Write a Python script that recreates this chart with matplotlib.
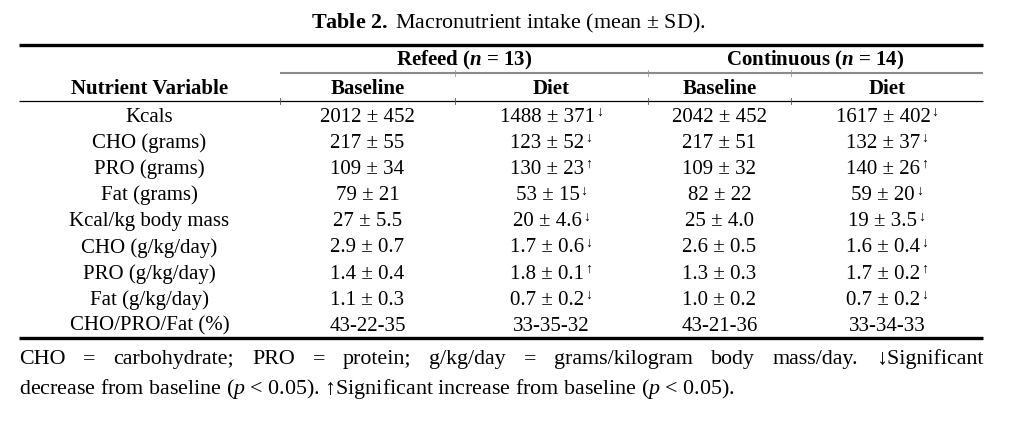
import matplotlib
matplotlib.use("Agg")
import matplotlib.pyplot as plt

plt.rcParams['font.family'] = ['Liberation Serif', 'DejaVu Serif', 'DejaVu Sans']
plt.rcParams['mathtext.fontset'] = 'custom'
plt.rcParams['mathtext.rm'] = 'Liberation Serif'
plt.rcParams['mathtext.it'] = 'Liberation Serif:italic'
plt.rcParams['mathtext.bf'] = 'Liberation Serif:bold'
plt.rcParams['mathtext.bfit'] = 'Liberation Serif:italic:bold'

# --- table content ---
title_bold = "Table 2."
title_rest = "Macronutrient intake (mean ± SD)."

groups = ["Refeed", "Continuous"]
group_n = [13, 14]
col_headers = ["Nutrient Variable", "Baseline", "Diet", "Baseline", "Diet"]

variables = ["Kcals", "CHO (grams)", "PRO (grams)", "Fat (grams)",
             "Kcal/kg body mass", "CHO (g/kg/day)", "PRO (g/kg/day)",
             "Fat (g/kg/day)", "CHO/PRO/Fat (%)"]

refeed_baseline = ["2012 ± 452", "217 ± 55", "109 ± 34", "79 ± 21", "27 ± 5.5",
                   "2.9 ± 0.7", "1.4 ± 0.4", "1.1 ± 0.3", "43-22-35"]
refeed_diet = ["1488 ± 371", "123 ± 52", "130 ± 23", "53 ± 15", "20 ± 4.6",
               "1.7 ± 0.6", "1.8 ± 0.1", "0.7 ± 0.2", "33-35-32"]
refeed_change = ["down", "down", "up", "down", "down", "down", "up", "down", ""]

cont_baseline = ["2042 ± 452", "217 ± 51", "109 ± 32", "82 ± 22", "25 ± 4.0",
                 "2.6 ± 0.5", "1.3 ± 0.3", "1.0 ± 0.2", "43-21-36"]
cont_diet = ["1617 ± 402", "132 ± 37", "140 ± 26", "59 ± 20", "19 ± 3.5",
             "1.6 ± 0.4", "1.7 ± 0.2", "0.7 ± 0.2", "33-34-33"]
cont_change = ["down", "down", "up", "down", "down", "down", "up", "down", ""]

foot_line1 = ("CHO = carbohydrate; PRO = protein; g/kg/day = grams/kilogram "
              "body mass/day. ↓Significant")
foot_line2 = (r"decrease from baseline ($p$ < 0.05). ↑Significant increase "
              r"from baseline ($p$ < 0.05).")

# --- layout (pixel coords) ---
fs = 15
fs_foot = 15.8
edges = [19, 280, 455, 648, 791, 983]
centers = [(edges[i] + edges[i + 1]) / 2 for i in range(5)]
row_y0, row_step = 116, 26.1
off = 6  # center -> baseline

fig = plt.figure(figsize=(10.24, 4.21), dpi=100)
ax = fig.add_axes([0, 0, 1, 1])
ax.set_xlim(0, 1024)
ax.set_ylim(421, 0)
ax.axis('off')
renderer = fig.canvas.get_renderer()


def txt(x, y, s, **kw):
    kw.setdefault('fontsize', fs)
    kw.setdefault('ha', 'center')
    return ax.text(x, y + off, s, va='baseline', **kw)


def width(t):
    return t.get_window_extent(renderer).width


# title
txt(508, 22, r"$\mathbf{Table\ 2.}$ " + title_rest, fontsize=15.8)

# rules
ax.plot([edges[0], edges[-1]], [45, 45], color='black', lw=2.4, solid_capstyle='butt')
ax.plot([edges[1], edges[-1]], [73, 73], color='#8a8a8a', lw=1.5, solid_capstyle='butt')
ax.plot([edges[0], edges[-1]], [101, 101], color='black', lw=0.9, solid_capstyle='butt')
ax.plot([edges[0], edges[-1]], [338, 338], color='black', lw=2.4, solid_capstyle='butt')
for xe in edges[2:5]:
    ax.plot([xe, xe], [70, 76], color='#9a9a9a', lw=0.6)
for xe in edges[1:5]:
    ax.plot([xe, xe], [98, 104], color='#555555', lw=0.6)

# group headers
txt((edges[1] + edges[3]) / 2, 59, groups[0] + r" ($\mathbfit{n}$ = %d)" % group_n[0],
    fontweight='bold')
txt((edges[3] + edges[5]) / 2, 59, groups[1] + r" ($\mathbfit{n}$ = %d)" % group_n[1],
    fontweight='bold')

# column headers
for cx, h in zip(centers, col_headers):
    txt(cx, 88, h, fontweight='bold')

# body
plain_cols = [(0, variables), (1, refeed_baseline), (3, cont_baseline)]
for j, col in plain_cols:
    for i, s in enumerate(col):
        txt(centers[j], row_y0 + i * row_step, s)

arrow = {"down": "↓", "up": "↑"}
for j, vals, changes in [(2, refeed_diet, refeed_change), (4, cont_diet, cont_change)]:
    for i, (s, c) in enumerate(zip(vals, changes)):
        y = row_y0 + i * row_step
        t = txt(centers[j], y, s, ha='left')
        if not c:
            t.set_ha('center')
            continue
        a = txt(0, y - 6, arrow[c], ha='left', fontsize=10)
        wv, wa = width(t), width(a)
        x0 = centers[j] - (wv + wa + 1) / 2
        t.set_x(x0)
        a.set_x(x0 + wv + 1)

# footnote: first line justified
words = foot_line1.split(" ")
objs = [ax.text(0, 364, w, fontsize=fs_foot, ha='left', va='baseline') for w in words]
widths = [width(o) for o in objs]
gap = (edges[-1] - edges[0] - sum(widths)) / (len(words) - 1)
x = edges[0]
for o, w in zip(objs, widths):
    o.set_x(x)
    x += w + gap

ax.text(edges[0], 394, foot_line2, fontsize=fs_foot, ha='left', va='baseline')

fig.savefig("out.png", dpi=100)
